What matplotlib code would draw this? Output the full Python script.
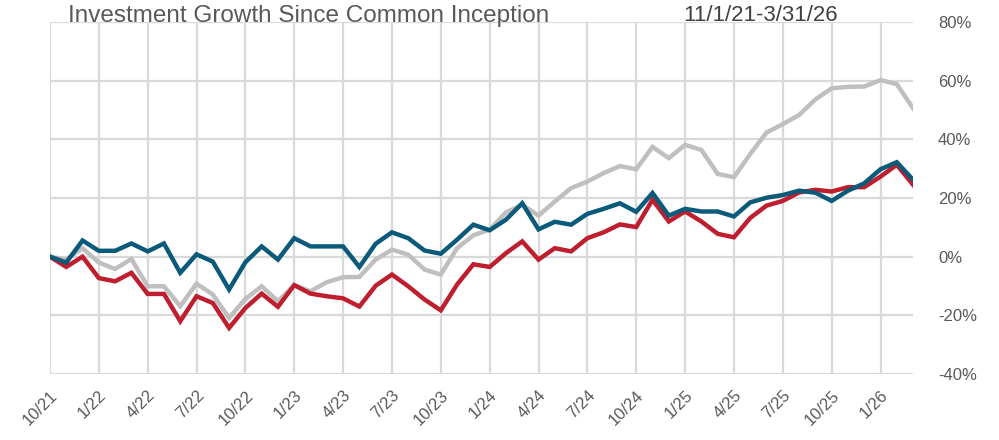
import matplotlib
matplotlib.use("Agg")
import matplotlib.pyplot as plt
from matplotlib import font_manager

# ─── Data (cumulative growth, %, monthly 10/21 .. 3/26) ─────────────────────
months = ["10/21", "11/21", "12/21", "1/22", "2/22", "3/22", "4/22", "5/22", "6/22",
          "7/22", "8/22", "9/22", "10/22", "11/22", "12/22", "1/23", "2/23", "3/23",
          "4/23", "5/23", "6/23", "7/23", "8/23", "9/23", "10/23", "11/23", "12/23",
          "1/24", "2/24", "3/24", "4/24", "5/24", "6/24", "7/24", "8/24", "9/24",
          "10/24", "11/24", "12/24", "1/25", "2/25", "3/25", "4/25", "5/25", "6/25",
          "7/25", "8/25", "9/25", "10/25", "11/25", "12/25", "1/26", "2/26", "3/26"]

blue = [0.0, -2.0, 5.5, 2.0, 2.0, 4.5, 1.8, 4.5, -5.5, 0.8, -1.7, -11.2, -1.9, 3.5,
        -1.0, 6.3, 3.5, 3.5, 3.5, -3.5, 4.4, 8.3, 6.3, 2.1, 1.0, 5.8, 10.9, 9.0,
        12.6, 18.2, 9.3, 11.9, 10.9, 14.6, 16.3, 18.2, 15.3, 21.7, 14.0, 16.3, 15.4,
        15.4, 13.7, 18.5, 20.1, 21.0, 22.5, 21.8, 19.0, 22.5, 25.0, 29.8, 32.2, 26.2]

red = [0.0, -3.5, 0.0, -7.3, -8.4, -5.5, -12.7, -12.7, -22.0, -13.5, -15.8, -24.3,
       -17.5, -12.6, -17.1, -9.7, -12.6, -13.5, -14.2, -17.0, -9.9, -6.1, -10.1,
       -14.6, -18.3, -9.5, -2.6, -3.5, 1.2, 5.2, -1.0, 2.9, 1.8, 6.3, 8.3, 11.0,
       10.1, 19.4, 12.0, 15.4, 12.0, 7.8, 6.6, 13.2, 17.4, 19.0, 21.9, 22.8, 22.2,
       23.7, 23.7, 27.3, 31.3, 24.5]

gray = [0.0, -1.0, 2.9, -2.0, -4.2, -0.8, -10.1, -10.1, -16.9, -9.2, -12.9, -20.9,
        -14.4, -10.1, -15.2, -9.7, -11.8, -8.7, -7.0, -6.9, -1.0, 2.4, 0.7, -4.4,
        -6.1, 2.9, 7.3, 9.2, 15.1, 17.7, 14.0, 18.8, 23.4, 25.6, 28.5, 30.9, 29.8,
        37.4, 33.6, 38.1, 36.4, 28.2, 27.1, 35.0, 42.3, 45.2, 48.3, 53.6, 57.4, 57.9,
        58.0, 60.2, 58.8, 50.6]

y_ticks = [-40, -20, 0, 20, 40, 60, 80]
y_labels = ["-40%", "-20%", "0%", "20%", "40%", "60%", "80%"]

TITLE = "Investment Growth Since Common Inception"
PERIOD = "11/1/21-3/31/26"

COLORS = {"gray": "#BFBFBF", "red": "#BE1E2D", "blue": "#0B5A7A"}

# ─── Fonts ──────────────────────────────────────────────────────────────────
names = {f.name for f in font_manager.fontManager.ttflist}
base = "Liberation Sans" if "Liberation Sans" in names else "DejaVu Sans"
narrow = "Liberation Sans Narrow" if "Liberation Sans Narrow" in names else base
plt.rcParams["font.family"] = [base, "DejaVu Sans"]

# ─── Plot ───────────────────────────────────────────────────────────────────
fig = plt.figure(figsize=(9.99, 4.40), dpi=100)
ax = fig.add_axes([0.050, 0.150, 0.864, 0.800])

x = list(range(len(months)))
ax.plot(x, gray, color=COLORS["gray"], lw=3.2, solid_joinstyle="miter", zorder=3)
ax.plot(x, red, color=COLORS["red"], lw=3.2, solid_joinstyle="miter", zorder=4)
ax.plot(x, blue, color=COLORS["blue"], lw=3.2, solid_joinstyle="miter", zorder=5)

ax.set_xlim(0, len(months) - 1)
ax.set_ylim(-40, 80)

xt = x[::3]
ax.set_xticks(xt)
ax.set_xticklabels([months[i] for i in xt], rotation=45, ha="right",
                   rotation_mode="anchor", fontsize=12, color="#595959")
ax.set_yticks(y_ticks)
ax.set_yticklabels(y_labels, fontsize=12, color="#595959")
ax.yaxis.tick_right()
ax.tick_params(axis="both", length=0)
ax.tick_params(axis="y", pad=18)
ax.tick_params(axis="x", pad=10)

ax.grid(True, color="#D9D9D9", lw=1.6, zorder=0)
for s in ax.spines.values():
    s.set_visible(False)

fig.text(0.068, 0.988, TITLE, fontsize=17.5, color="#595959", family=[narrow, base],
         ha="left", va="top")
fig.text(0.684, 0.988, PERIOD, fontsize=16, color="#404040", family=[narrow, base],
         ha="left", va="top")

fig.savefig("out.png", dpi=100, facecolor="white")
